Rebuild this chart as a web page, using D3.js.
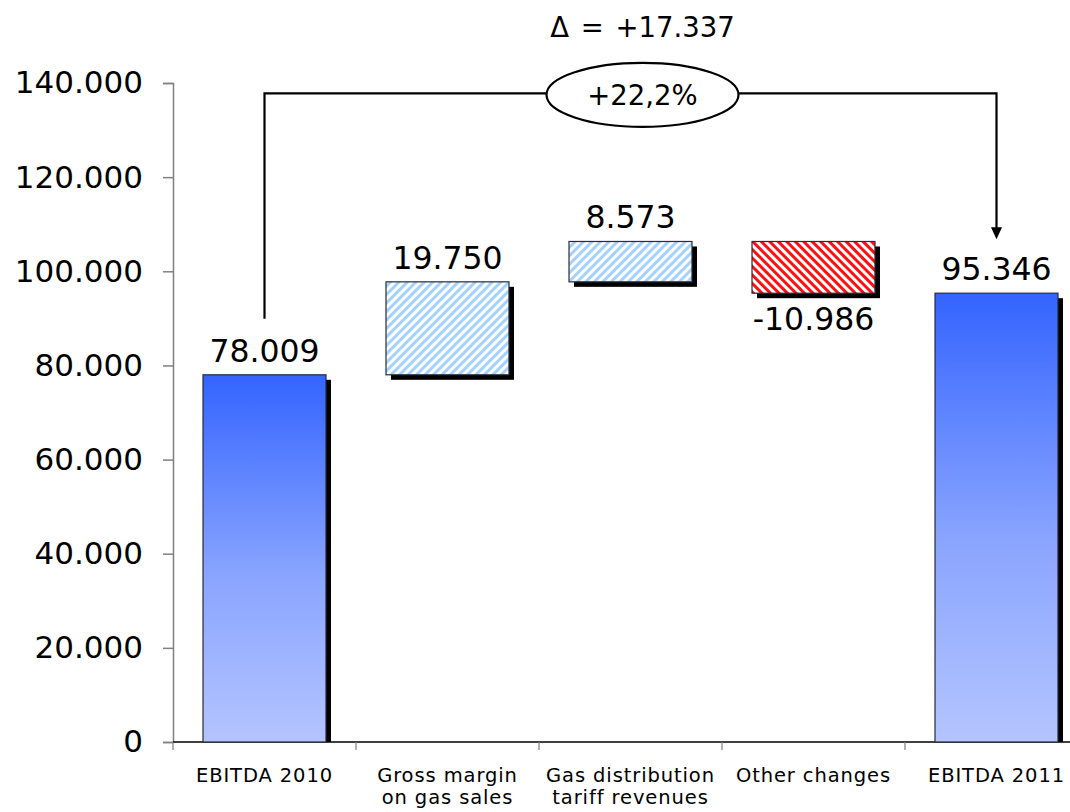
<!DOCTYPE html>
<html>
<head>
<meta charset="utf-8">
<script src="https://cdn.jsdelivr.net/npm/d3@7"></script>
<style>
  html, body { margin: 0; padding: 0; background: #fff; }
  svg { display: block; font-family: "DejaVu Sans", Verdana, sans-serif; }
</style>
</head>
<body>
<svg id="chart" width="1070" height="812"></svg>
<script>
// EBITDA bridge 2010 -> 2011
const categories = [
  ["EBITDA 2010"],
  ["Gross margin", "on gas sales"],
  ["Gas distribution", "tariff revenues"],
  ["Other changes"],
  ["EBITDA 2011"]
];
const kinds = ["total", "delta", "delta", "delta", "total"];
const values = [78009, 19750, 8573, -10986, 95346];
const valueLabels = ["78.009", "19.750", "8.573", "-10.986", "95.346"];
const yTicks = [0, 20000, 40000, 60000, 80000, 100000, 120000, 140000];
const yTickLabels = ["0", "20.000", "40.000", "60.000", "80.000", "100.000", "120.000", "140.000"];
const deltaLabel = "\u0394 = +17.337";
const pctLabel = "+22,2%";
const bracketLevel = 137800;

const svg = d3.select("#chart");
const plotLeft = 173, plotRight = 1088, plotTop = 83, plotBottom = 742;

const x = d3.scaleBand()
  .domain(d3.range(categories.length))
  .range([plotLeft, plotRight])
  .paddingInner(0.328)
  .paddingOuter(0.164);
const y = d3.scaleLinear().domain([0, 140000]).range([plotBottom, plotTop]);

// waterfall segments
let run = 0;
const segs = values.map((v, i) => {
  let lo, hi;
  if (kinds[i] === "total") { lo = 0; hi = v; run = v; }
  else { const s = run; run += v; lo = Math.min(s, run); hi = Math.max(s, run); }
  return { i, v, lo, hi, kind: kinds[i] };
});

const defs = svg.append("defs");
const grad = defs.append("linearGradient").attr("id", "blueGrad")
  .attr("x1", 0).attr("y1", 0).attr("x2", 0).attr("y2", 1);
grad.append("stop").attr("offset", "0%").attr("stop-color", "#3464ff");
grad.append("stop").attr("offset", "55%").attr("stop-color", "#8aa5ff");
grad.append("stop").attr("offset", "100%").attr("stop-color", "#b4c4ff");

const upPat = defs.append("pattern").attr("id", "hatchUp")
  .attr("patternUnits", "userSpaceOnUse").attr("width", 6).attr("height", 6)
  .attr("patternTransform", "rotate(45)");
upPat.append("rect").attr("width", 6).attr("height", 6).attr("fill", "#ffffff");
upPat.append("rect").attr("width", 3).attr("height", 6).attr("fill", "#a4d2ff");

const downPat = defs.append("pattern").attr("id", "hatchDown")
  .attr("patternUnits", "userSpaceOnUse").attr("width", 6).attr("height", 6)
  .attr("patternTransform", "rotate(-45)");
downPat.append("rect").attr("width", 6).attr("height", 6).attr("fill", "#ffffff");
downPat.append("rect").attr("width", 3).attr("height", 6).attr("fill", "#ff1010");

// y axis
const yAxis = svg.append("g").attr("transform", `translate(${plotLeft},0)`)
  .call(d3.axisLeft(y).tickValues(yTicks).tickFormat((d, i) => yTickLabels[i]).tickSize(10).tickPadding(20));
yAxis.select(".domain").attr("stroke", "#808080").attr("stroke-width", 1.5);
yAxis.selectAll(".tick line").attr("stroke", "#808080").attr("stroke-width", 1.5);
yAxis.selectAll(".tick text").attr("font-size", 31).attr("fill", "#000")
  .attr("font-family", "DejaVu Sans, Verdana, sans-serif");

// x axis baseline and category separators
svg.append("line").attr("x1", plotLeft).attr("x2", 1070).attr("y1", plotBottom).attr("y2", plotBottom)
  .attr("stroke", "#000").attr("stroke-width", 1.5);
const step = x.step();
d3.range(categories.length + 1).forEach(k => {
  const xx = plotLeft + k * step;
  svg.append("line").attr("x1", xx).attr("x2", xx).attr("y1", plotBottom).attr("y2", plotBottom + 8)
    .attr("stroke", "#808080").attr("stroke-width", 1.2);
});

// bars with drop shadow
const off = 5;
const bars = svg.append("g");
segs.forEach(s => {
  const bx = x(s.i), bw = x.bandwidth();
  const yt = y(s.hi), yb = y(s.lo);
  bars.append("rect")
    .attr("x", bx + off).attr("y", yt + off)
    .attr("width", bw).attr("height", Math.min(yb + off, plotBottom) - (yt + off))
    .attr("fill", "#000");
  const fill = s.kind === "total" ? "url(#blueGrad)" : (s.v >= 0 ? "url(#hatchUp)" : "url(#hatchDown)");
  bars.append("rect")
    .attr("x", bx).attr("y", yt).attr("width", bw).attr("height", yb - yt)
    .attr("fill", fill).attr("stroke", "#2a2a3a").attr("stroke-width", 1.2);
});

// value labels
segs.forEach((s, i) => {
  const cx = x(s.i) + x.bandwidth() / 2;
  const below = s.kind === "delta" && s.v < 0;
  svg.append("text")
    .attr("x", cx)
    .attr("y", below ? y(s.lo) + 37 : y(s.hi) - 13)
    .attr("text-anchor", "middle").attr("font-size", 31.5).attr("fill", "#000")
    .text(valueLabels[i]);
});

// category labels
categories.forEach((lines, i) => {
  const cx = x(i) + x.bandwidth() / 2;
  const t = svg.append("text").attr("text-anchor", "middle")
    .attr("font-size", 19.5).attr("letter-spacing", 0.9).attr("fill", "#000");
  lines.forEach((ln, k) => {
    t.append("tspan").attr("x", cx).attr("y", 782 + k * 22).text(ln);
  });
});

// change bracket between the two totals
const x0 = x(0) + x.bandwidth() / 2, x1 = x(4) + x.bandwidth() / 2;
const yBr = y(bracketLevel);
const ex = (x0 + x1) / 2 + 12, ery = 32, erx = 96;
const g = svg.append("g").attr("stroke", "#000").attr("stroke-width", 2.2).attr("fill", "none");
g.append("path").attr("d", `M${x0},${y(values[0]) - 56} V${yBr} H${ex - erx}`);
g.append("path").attr("d", `M${ex + erx},${yBr} H${x1} V${y(values[4]) - 64}`);
svg.append("path")
  .attr("d", `M${x1 - 5.5},${y(values[4]) - 66} L${x1 + 5.5},${y(values[4]) - 66} L${x1},${y(values[4]) - 54} Z`)
  .attr("fill", "#000");
svg.append("ellipse").attr("cx", ex).attr("cy", yBr + 1.5).attr("rx", erx).attr("ry", ery)
  .attr("fill", "#fff").attr("stroke", "#000").attr("stroke-width", 2.2);
svg.append("text").attr("x", ex).attr("y", yBr + 12).attr("text-anchor", "middle")
  .attr("font-size", 27.5).attr("fill", "#000").text(pctLabel);
svg.append("text").attr("x", ex).attr("y", 37).attr("text-anchor", "middle")
  .attr("font-size", 27.5).attr("word-spacing", 3).attr("fill", "#000").text(deltaLabel);
</script>
</body>
</html>
